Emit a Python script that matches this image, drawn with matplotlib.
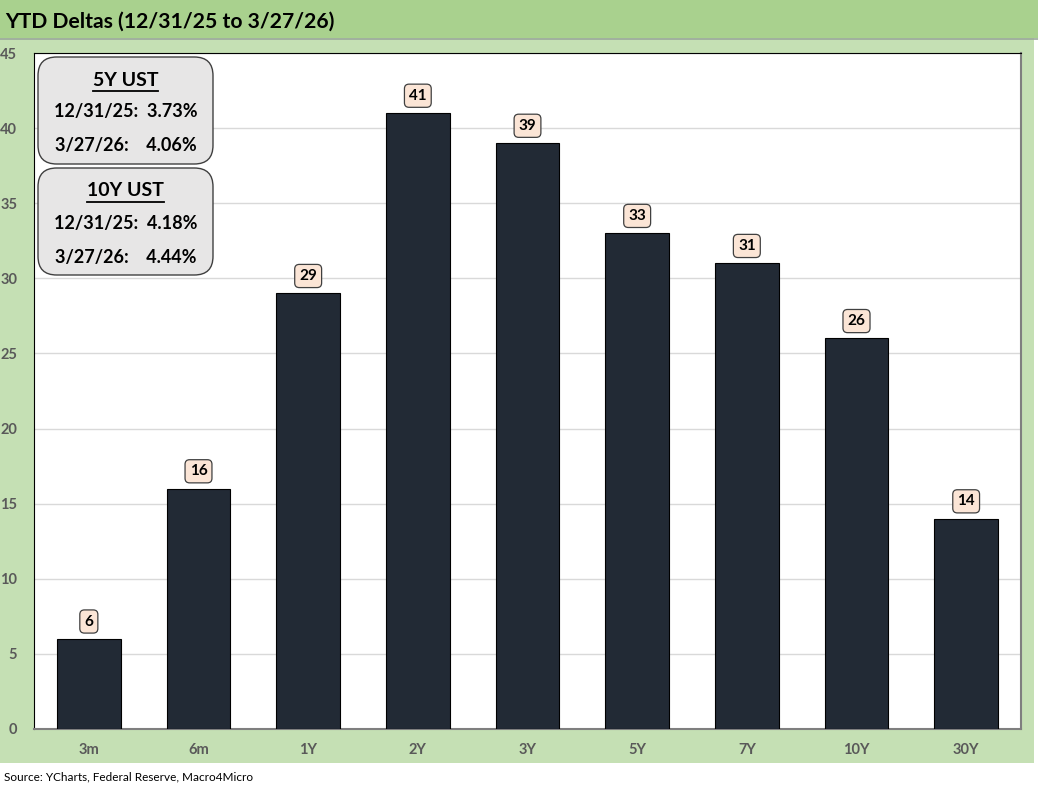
import matplotlib
matplotlib.use("Agg")
import matplotlib.pyplot as plt
from matplotlib.patches import Rectangle, FancyBboxPatch

plt.rcParams['font.family'] = ['Lato', 'DejaVu Sans']

# data
tenors = ["3m", "6m", "1Y", "2Y", "3Y", "5Y", "7Y", "10Y", "30Y"]
deltas = [6, 16, 29, 41, 39, 33, 31, 26, 14]
yticks = [0, 5, 10, 15, 20, 25, 30, 35, 40, 45]
box5 = ["5Y UST", "12/31/25:  3.73%", "3/27/26:    4.06%"]
box10 = ["10Y UST", "12/31/25:  4.18%", "3/27/26:    4.44%"]

W, H = 1038, 793
fig = plt.figure(figsize=(W / 100, H / 100), dpi=100)
fig.patch.set_facecolor("white")

# background bands
fig.patches.append(Rectangle((0, 1 - 763 / H), 1034 / W, (763 - 38) / H,
                             transform=fig.transFigure, facecolor="#c5e0b4",
                             edgecolor="none", zorder=-10))
fig.patches.append(Rectangle((0, 1 - 38 / H), 1, 38 / H,
                             transform=fig.transFigure, facecolor="#a9d18e",
                             edgecolor="none", zorder=-10))
fig.lines.append(plt.Line2D([0, 1], [1 - 38.5 / H] * 2, transform=fig.transFigure,
                            color="#9aa89a", lw=1.2, zorder=-9))
fig.text(5 / W, 1 - 22 / H, "YTD Deltas (12/31/25 to 3/27/26)", fontsize=15.2,
         fontweight="bold", va="center", ha="left", color="black")

ax = fig.add_axes([34 / W, (H - 729) / H, 987 / W, (729 - 53) / H])
ax.set_facecolor("white")
x = range(len(tenors))
ax.bar(x, deltas, width=0.58, color="#222a35", edgecolor="black", linewidth=0.8, zorder=3)
ax.set_xlim(-0.5, len(tenors) - 0.5)
ax.set_ylim(0, 45)
ax.set_yticks(yticks)
ax.set_xticks(list(x))
ax.set_xticklabels(tenors)
ax.grid(axis="y", color="#d9d9d9", lw=1, zorder=0)
ax.tick_params(length=0, colors="#595959", labelsize=10.5)
ax.tick_params(axis="x", pad=10)
ax.tick_params(axis="y", pad=12)
for lab in ax.get_xticklabels() + ax.get_yticklabels():
    lab.set_fontweight("bold")
for s in ["top", "left"]:
    ax.spines[s].set_color("black")
for s in ["bottom", "right"]:
    ax.spines[s].set_color("#7f7f7f")
    ax.spines[s].set_linewidth(1.5)

for i, v in enumerate(deltas):
    ax.annotate(str(v), (i, v), xytext=(0, 12.5), textcoords="offset points",
                ha="center", va="center", fontsize=11, fontweight="bold",
                bbox=dict(boxstyle="round,pad=0.3,rounding_size=0.3",
                          facecolor="#fbe5d6", edgecolor="#404040", lw=0.9))

heads = []

def info_box(top, lines):
    x0, x1 = 38, 213
    y0, y1 = top, top + 107
    fig.patches.append(FancyBboxPatch((x0 / W, 1 - y1 / H), (x1 - x0) / W, (y1 - y0) / H,
                                      boxstyle="round,pad=0,rounding_size=0.018",
                                      transform=fig.transFigure, facecolor="#e7e6e6",
                                      edgecolor="#404040", lw=1, zorder=5,
                                      mutation_aspect=W / H))
    cx = (x0 + x1) / 2 / W
    t = fig.text(cx, 1 - (top + 23) / H, lines[0], fontsize=14, fontweight="bold",
                 ha="center", va="center", zorder=6)
    heads.append((t, top))
    fig.text(cx, 1 - (top + 55) / H, lines[1], fontsize=13, fontweight="bold",
             ha="center", va="center", zorder=6)
    fig.text(cx, 1 - (top + 89) / H, lines[2], fontsize=13, fontweight="bold",
             ha="center", va="center", zorder=6)

info_box(57, box5)
info_box(168, box10)

# underline the headings using their rendered width
fig.canvas.draw()
r = fig.canvas.get_renderer()
for t, top in heads:
    bb = t.get_window_extent(r)
    fig.lines.append(plt.Line2D([bb.x0 / W, bb.x1 / W], [1 - (top + 34) / H] * 2,
                                transform=fig.transFigure, color="black", lw=1.3,
                                zorder=6))

fig.text(4 / W, 1 - 777 / H, "Source: YCharts, Federal Reserve, Macro4Micro",
         fontsize=8.5, ha="left", va="center")

fig.savefig("out.png", dpi=100, facecolor=fig.get_facecolor())
